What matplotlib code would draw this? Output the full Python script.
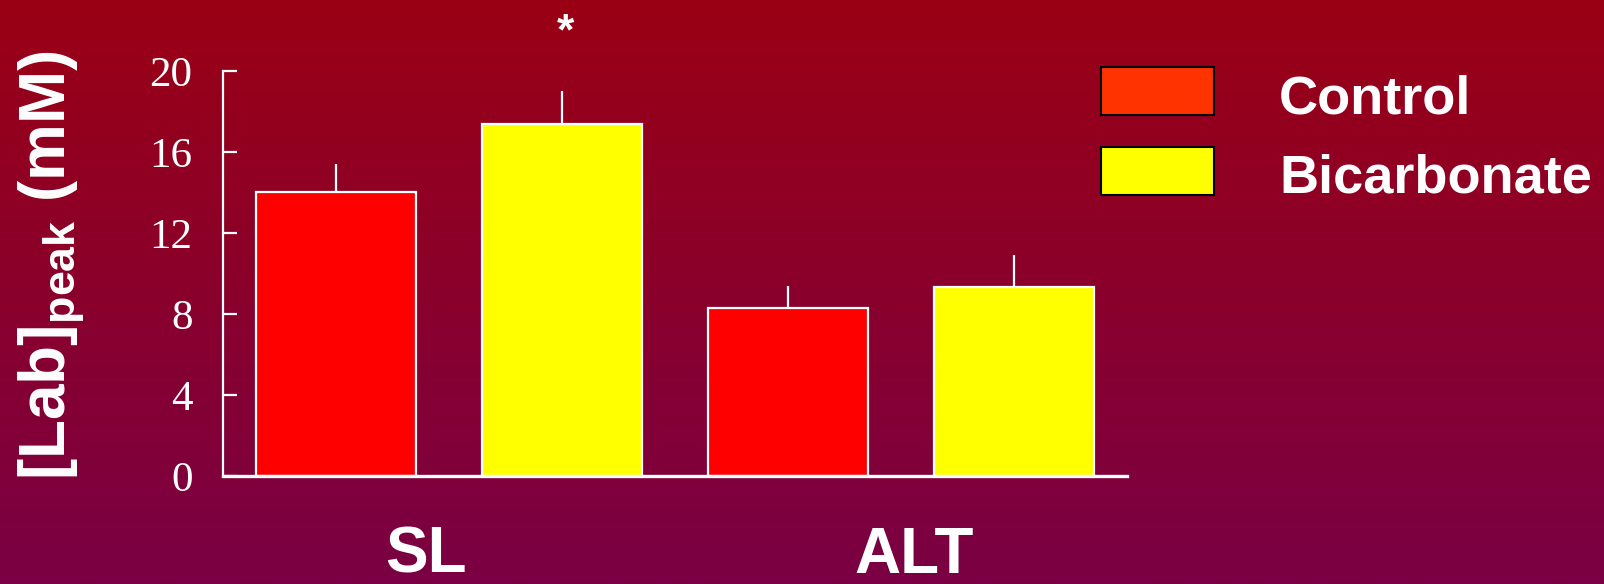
import numpy as np
import matplotlib
matplotlib.use("Agg")
import matplotlib.pyplot as plt
from matplotlib.colors import LinearSegmentedColormap
from matplotlib.patches import Rectangle

plt.rcParams['mathtext.fontset'] = 'custom'
plt.rcParams['mathtext.bf'] = 'Liberation Sans:bold'
plt.rcParams['mathtext.rm'] = 'Liberation Sans'

# peak lactate, mean and SEM per condition
groups = ['SL', 'ALT']
series = ['Control', 'Bicarbonate']
means = [14.0, 17.4, 8.3, 9.35]
sems = [1.4, 1.6, 1.1, 1.55]
bar_colors = ['#FF0000', '#FFFF00', '#FF0000', '#FFFF00']
legend_colors = ['#FF3300', '#FFFF00']
yticks = [0, 4, 8, 12, 16, 20]
signif = ['', '*', '', '']

fig = plt.figure(figsize=(16.04, 5.84), dpi=100)

# background gradient
bg = fig.add_axes([0, 0, 1, 1], zorder=-10)
cmap = LinearSegmentedColormap.from_list('bg', ['#9A0014', '#7A0044'])
bg.imshow(np.linspace(0, 1, 256).reshape(-1, 1), aspect='auto', cmap=cmap,
          extent=[0, 1, 0, 1])
bg.axis('off')

ax = fig.add_axes([0.139, 0.185, 0.5636, 0.6935])
ax.patch.set_alpha(0)

x = np.arange(len(means))
ax.errorbar(x, means, yerr=[np.zeros(len(sems)), sems], fmt='none',
            ecolor='white', elinewidth=1.6, capsize=0, zorder=1)
ax.bar(x, means, width=0.712, color=bar_colors, edgecolor='white',
       linewidth=1.6, zorder=2)

for xi, mark in zip(x, signif):
    if mark:
        ax.text(xi + 0.015, 22.9, mark, color='white', fontsize=32,
                fontweight='bold', ha='center', va='top',
                family='Liberation Sans', clip_on=False)

ax.set_xlim(-0.5, 3.5)
ax.set_ylim(0, 20)
ax.set_yticks(yticks)
ax.set_yticklabels([str(t) for t in yticks], family='Liberation Serif',
                   fontsize=31, color='white')
ax.tick_params(axis='y', direction='in', length=10, width=1.6,
               color='white', pad=22)

ax.set_xticks([0.40, 2.56])
ax.set_xticklabels(groups, family='Liberation Sans', fontweight='bold',
                   fontsize=46, color='white')
ax.tick_params(axis='x', length=0, pad=36)

for side in ['top', 'right']:
    ax.spines[side].set_visible(False)
ax.spines['left'].set_color('white')
ax.spines['left'].set_linewidth(1.6)
ax.spines['bottom'].set_color('white')
ax.spines['bottom'].set_linewidth(2.4)

fig.text(52 / 1604, 1 - 265 / 584, r'[Lab]$_{\mathbf{peak}}$ (mM)',
         rotation=90, ha='center', va='center', color='white',
         family='Liberation Sans', fontweight='bold', fontsize=46)

# legend
W, H = 1604, 584
for i, (name, col) in enumerate(zip(series, legend_colors)):
    top = 67 + 80 * i
    fig.patches.append(Rectangle((1101 / W, 1 - (top + 48) / H), 113 / W, 48 / H,
                                 transform=fig.transFigure, facecolor=col,
                                 edgecolor='black', linewidth=1.5))
    fig.text(1279 / W, 1 - (top + 46) / H, name, ha='left', va='baseline',
             color='white', family='Liberation Sans', fontweight='bold',
             fontsize=39)

fig.savefig('out.png', dpi=100)
